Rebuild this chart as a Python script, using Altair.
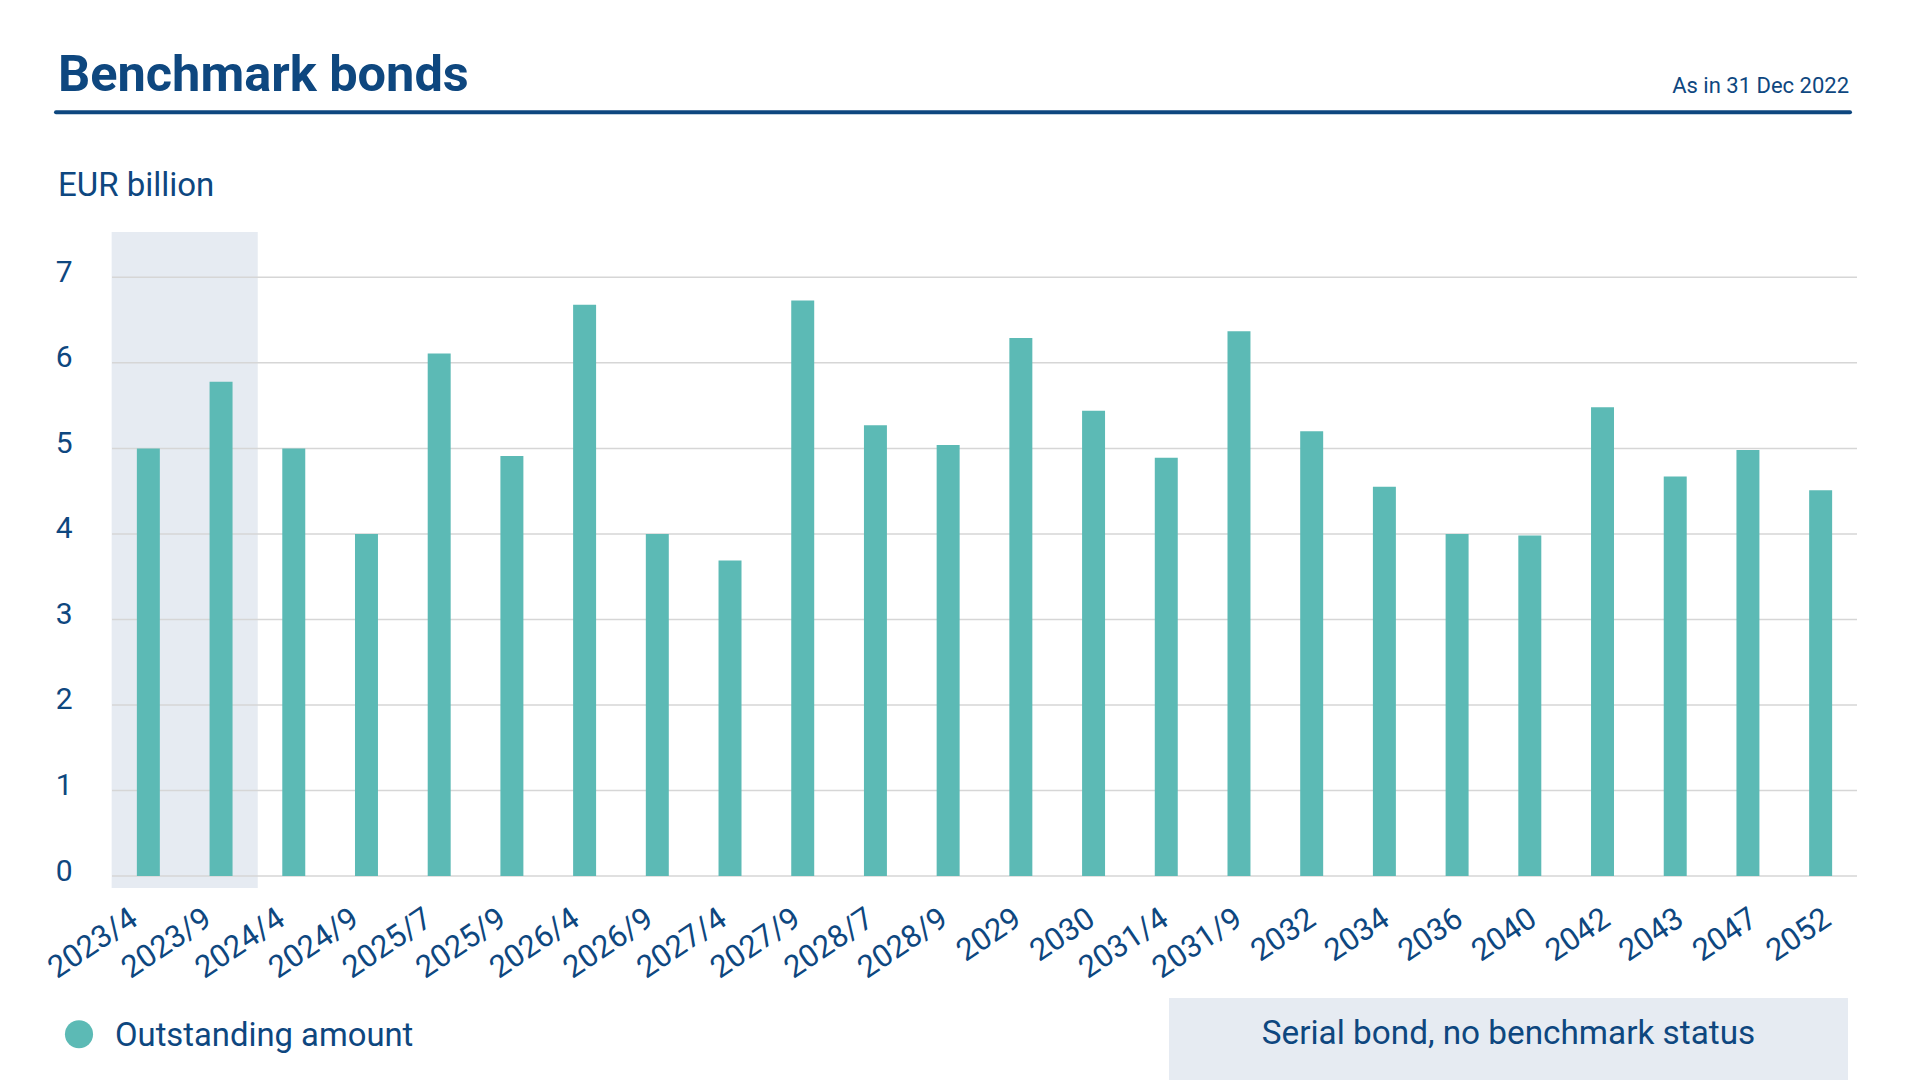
import altair as alt
import pandas as pd

# ---- data ----
bonds = ["2023/4", "2023/9", "2024/4", "2024/9", "2025/7", "2025/9", "2026/4",
         "2026/9", "2027/4", "2027/9", "2028/7", "2028/9", "2029", "2030",
         "2031/4", "2031/9", "2032", "2034", "2036", "2040", "2042", "2043",
         "2047", "2052"]
amounts = [5.00, 5.78, 5.00, 4.00, 6.11, 4.91, 6.68, 4.00, 3.69, 6.73, 5.27,
           5.04, 6.29, 5.44, 4.89, 6.37, 5.20, 4.55, 4.00, 3.98, 5.48, 4.67,
           4.98, 4.51]
serial_bonds = ["2023/4", "2023/9"]
y_ticks = [0, 1, 2, 3, 4, 5, 6, 7]

title_text = "Benchmark bonds"
date_text = "As in 31 Dec 2022"
unit_text = "EUR billion"
legend_text = "Outstanding amount"
serial_text = "Serial bond, no benchmark status"

# ---- styling ----
TXT = "#0e477f"
BAR = "#5cbab5"
SHADE = "#e6ebf2"
GRID = "#d6d6d6"
FONT = "Roboto"
W, H = 1745, 644
PI = 0.684
Y_MAX = 7.53

x_scale = alt.Scale(domain=bonds, paddingInner=PI, paddingOuter=PI / 2)
y_scale = alt.Scale(domain=[0, Y_MAX], nice=False, zero=True)

x_axis = alt.Axis(title=None, domain=False, ticks=False, grid=False,
                  labelAngle=-34, labelFontSize=31, labelPadding=27,
                  labelOffset=alt.ExprRef("-22 + 21 * datum.index"),
                  labelColor=TXT, labelFont=FONT)
y_axis = alt.Axis(title=None, domain=False, ticks=False, grid=False,
                  values=y_ticks, labelFontSize=30, labelPadding=40,
                  labelColor=TXT, labelFont=FONT, labelOffset=-5)

bars_df = pd.DataFrame({"Bond": bonds, "Amount": amounts})
shade_df = pd.DataFrame({"Bond": serial_bonds})
grid_df = pd.DataFrame({"v": y_ticks})

shade = alt.Chart(shade_df).mark_bar(
    color=SHADE, width={"band": 1.0 / (1 - PI) + 0.03}
).encode(
    x=alt.X("Bond:N", scale=x_scale, sort=None, axis=x_axis),
    y=alt.value(0),
    y2=alt.value(H + 12),
)

grid = alt.Chart(grid_df).mark_rule(color=GRID, strokeWidth=1.5).encode(
    y=alt.Y("v:Q", scale=y_scale, axis=y_axis)
)

bars = alt.Chart(bars_df).mark_bar(color=BAR).encode(
    x=alt.X("Bond:N", scale=x_scale, sort=None, axis=x_axis),
    y=alt.Y("Amount:Q", scale=y_scale, axis=y_axis),
)


def txt(s, x, y, size, weight="normal", align="left"):
    return alt.Chart(pd.DataFrame({"t": [s]})).mark_text(
        align=align, baseline="alphabetic", fontSize=size, fontWeight=weight,
        color=TXT, font=FONT
    ).encode(x=alt.value(x), y=alt.value(y), text="t:N")


title = txt(title_text, -54, -141, 50.5, weight="bold")
date = txt(date_text, 1737, -139.3, 22, align="right")
unit = txt(unit_text, -54, -36.3, 33)

title_rule = alt.Chart(pd.DataFrame({"a": [0]})).mark_rule(
    color=TXT, strokeWidth=4, strokeCap="round"
).encode(x=alt.value(-56), x2=alt.value(1738), y=alt.value(-119.7))

legend_dot = alt.Chart(pd.DataFrame({"t": [legend_text]})).mark_point(
    filled=True, shape="circle", size=790, color=BAR, opacity=1
).encode(x=alt.value(-33), y=alt.value(802.3))
legend_label = txt(legend_text, 3, 813.7, 32.8)

box = alt.Chart(pd.DataFrame({"t": [serial_text]})).mark_rect(color=SHADE).encode(
    x=alt.value(1057), x2=alt.value(1736), y=alt.value(766), y2=alt.value(880)
)
box_label = txt(serial_text, 1396.5, 812.3, 33.3, align="center")

chart = alt.layer(
    shade, grid, bars, title, title_rule, date, unit,
    legend_dot, legend_label, box, box_label
).properties(
    width=W, height=H,
    autosize=alt.AutoSizeParams(type="none"),
    padding={"left": 104, "top": 224, "right": 30, "bottom": 204},
).configure(font=FONT).configure_view(stroke=None)

chart.save("out.html", embed_options={"renderer": "svg", "actions": False})
